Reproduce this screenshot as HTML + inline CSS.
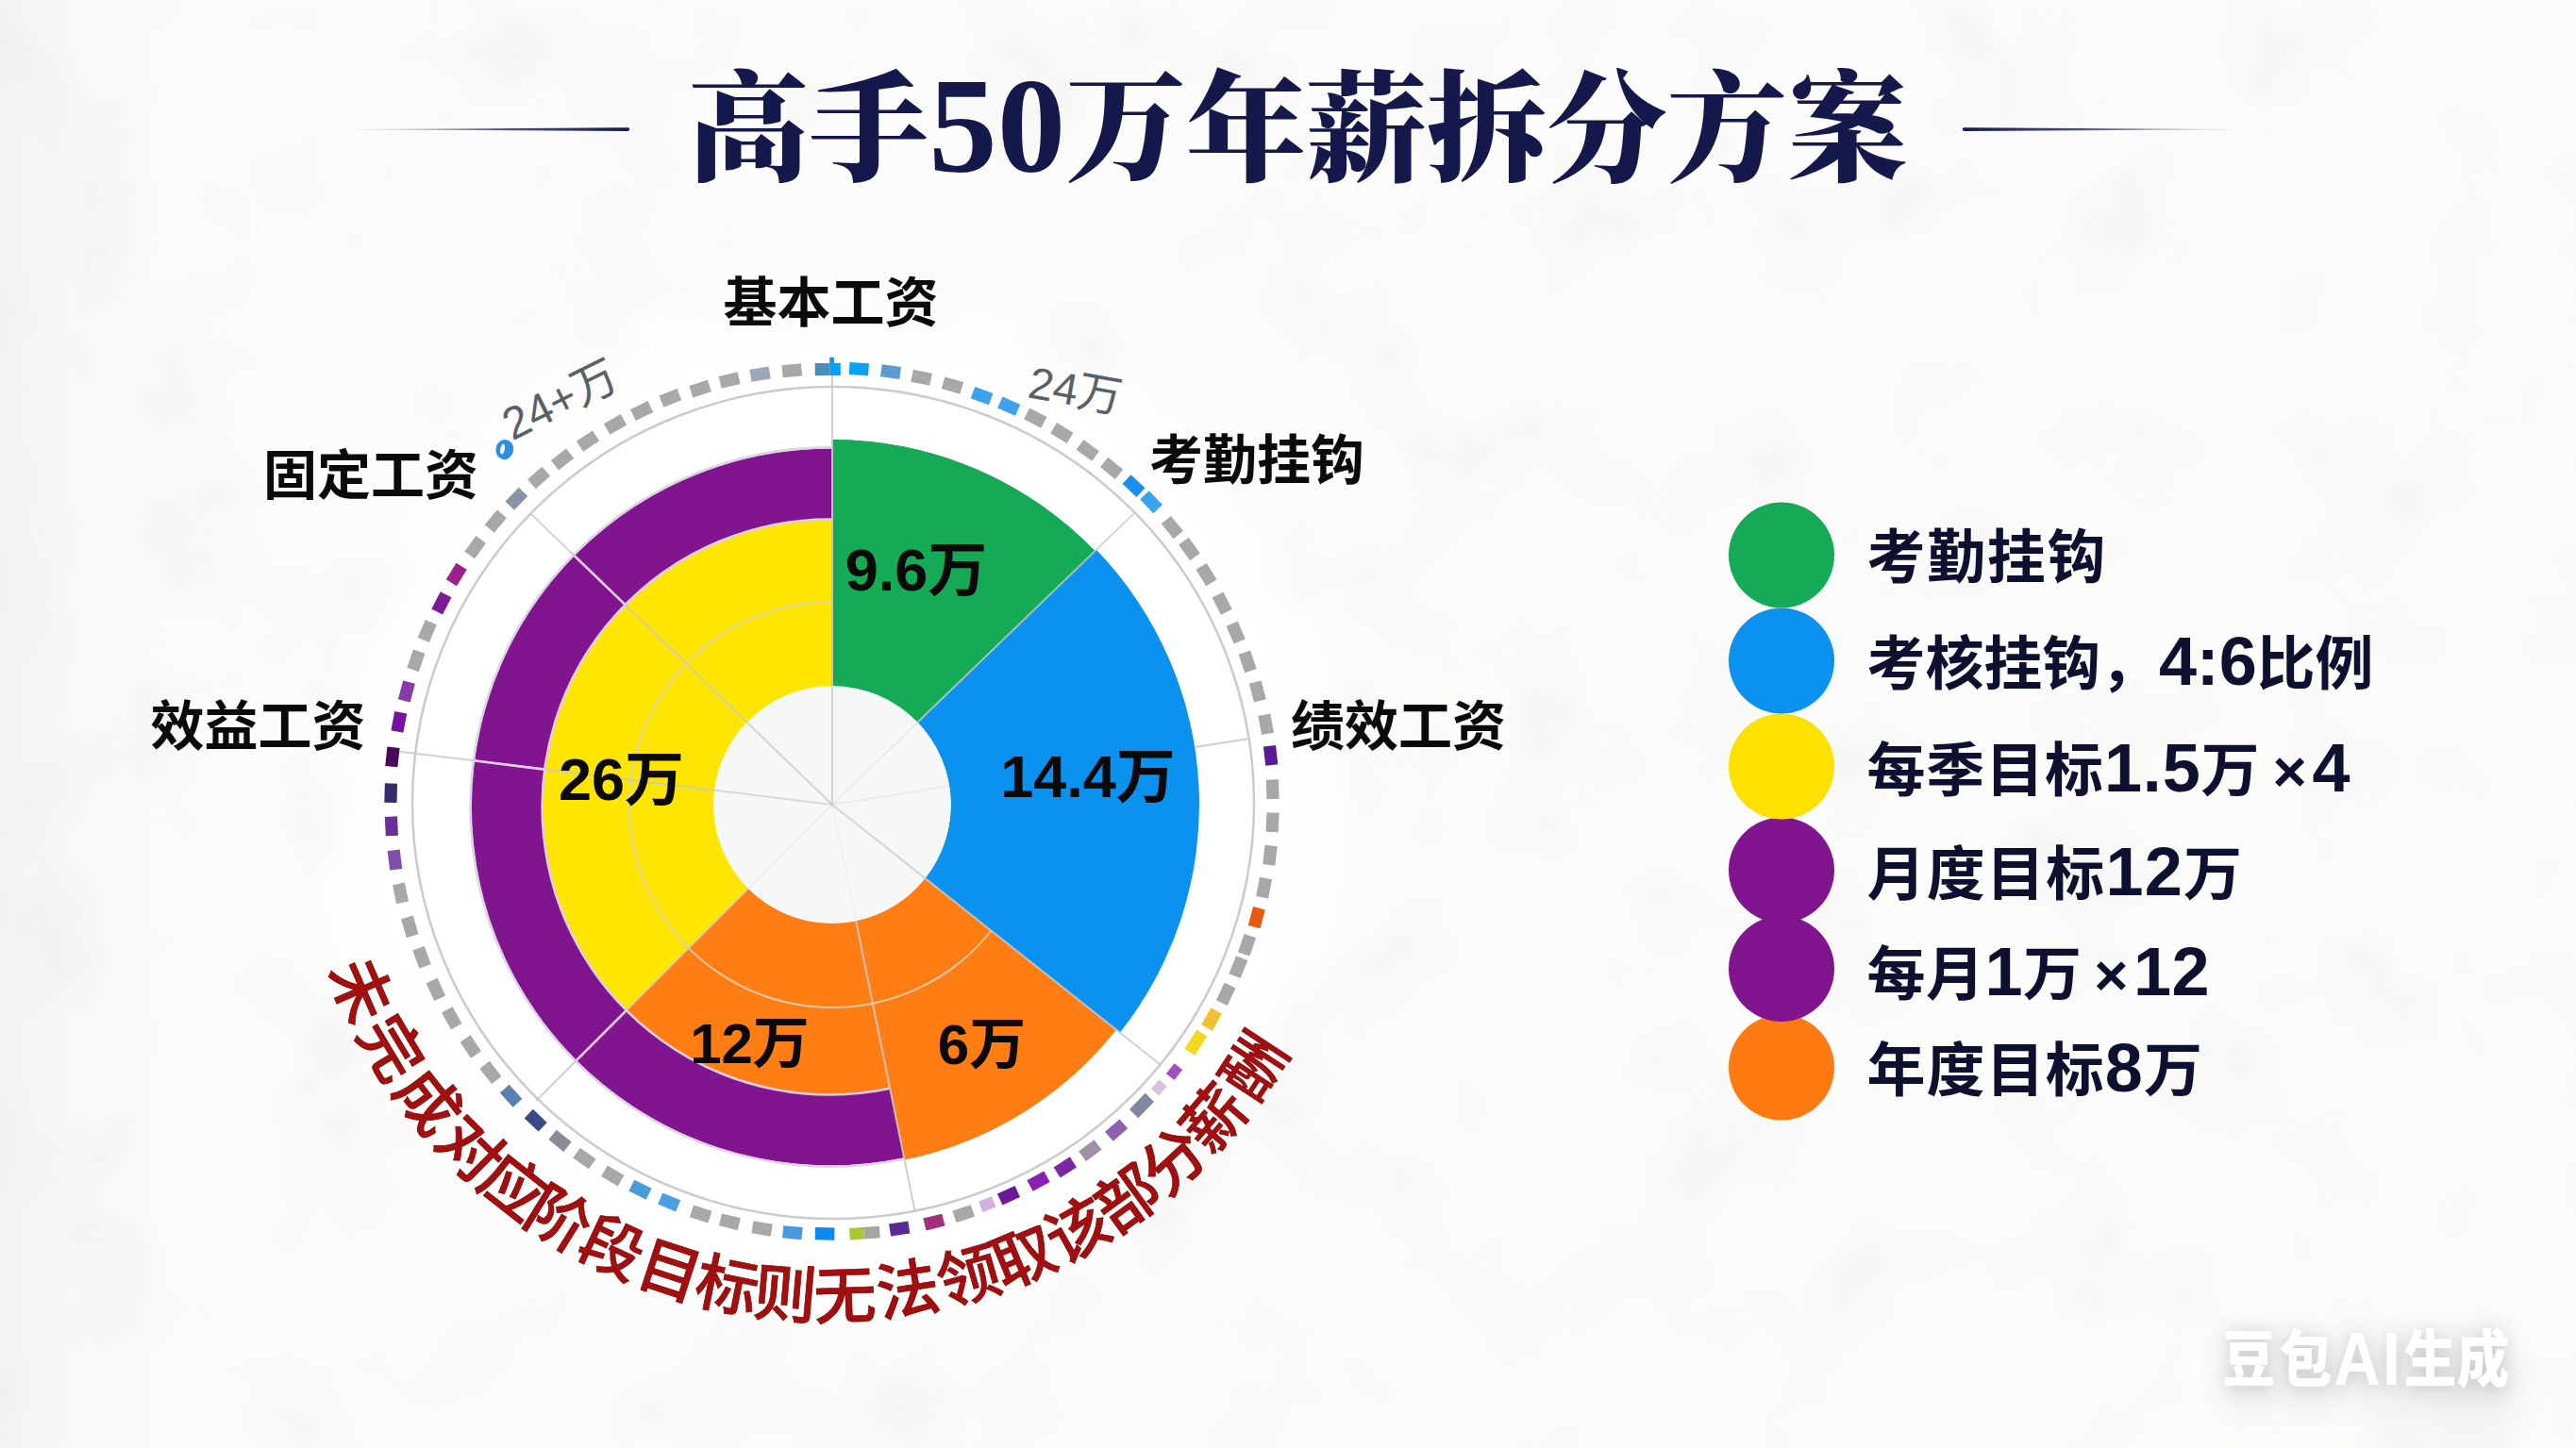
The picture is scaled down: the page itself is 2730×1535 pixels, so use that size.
<!DOCTYPE html>
<html lang="zh-CN"><head><meta charset="utf-8"><title>高手50万年薪拆分方案</title>
<style>
html,body{margin:0;padding:0;background:#fcfcfb;}
body{width:2730px;height:1535px;overflow:hidden;position:relative;}
svg{display:block;position:absolute;left:0;top:0;}
.title{font-family:"Liberation Serif","Noto Serif CJK SC",serif;font-weight:900;font-size:127.5px;fill:#14184a;}
.lab{font-family:"Liberation Sans","Noto Sans CJK SC",sans-serif;font-weight:700;font-size:57px;fill:#0a0a0a;}
.val{font-family:"Liberation Sans","Noto Sans CJK SC",sans-serif;font-weight:700;font-size:63px;fill:#0a0a0a;}
.leg{font-family:"Liberation Sans","Noto Sans CJK SC",sans-serif;font-weight:700;font-size:62px;fill:#0e1030;}
.thin{font-family:"Liberation Sans","Noto Sans CJK SC",sans-serif;font-weight:400;font-size:46px;fill:#586068;}
.red{font-family:"Liberation Sans","Noto Sans CJK SC",sans-serif;font-weight:500;font-size:66.5px;fill:#a30f0f;stroke:#7a0505;stroke-width:0.7px;}
.wm{font-family:"Liberation Sans","Noto Sans CJK SC",sans-serif;font-weight:900;font-size:64px;fill:#ffffff;}
</style></head><body>
<svg width="2730" height="1535" viewBox="0 0 2730 1535">
<defs>
<radialGradient id="disc" cx="882" cy="852" r="560" gradientUnits="userSpaceOnUse"><stop offset="0" stop-color="#fff"/><stop offset="0.84" stop-color="#fff"/><stop offset="1" stop-color="#fff" stop-opacity="0"/></radialGradient>
<linearGradient id="ll" x1="350" x2="668" y1="0" y2="0" gradientUnits="userSpaceOnUse"><stop offset="0" stop-color="#14184a" stop-opacity="0"/><stop offset="0.6" stop-color="#14184a" stop-opacity="0.75"/><stop offset="1" stop-color="#14184a"/></linearGradient>
<linearGradient id="lr" x1="2076" x2="2394" y1="0" y2="0" gradientUnits="userSpaceOnUse"><stop offset="0" stop-color="#14184a"/><stop offset="0.4" stop-color="#14184a" stop-opacity="0.75"/><stop offset="1" stop-color="#14184a" stop-opacity="0"/></linearGradient>
<linearGradient id="lg" x1="0" x2="300" y1="0" y2="0" gradientUnits="userSpaceOnUse"><stop offset="0" stop-color="#f3f5f3"/><stop offset="1" stop-color="#fcfcfb" stop-opacity="0"/></linearGradient>
<filter id="paper" x="0" y="0" width="100%" height="100%"><feTurbulence type="fractalNoise" baseFrequency="0.007" numOctaves="3" seed="7" result="n"/><feColorMatrix in="n" type="matrix" values="0 0 0 0 0.45  0 0 0 0 0.47  0 0 0 0 0.45  0 0 0 -1.6 0.86"/></filter>
<filter id="wms" x="-30%" y="-100%" width="160%" height="340%"><feGaussianBlur in="SourceAlpha" stdDeviation="9" result="b"/><feFlood flood-color="#909794" flood-opacity="0.42"/><feComposite in2="b" operator="in" result="g"/><feOffset in="g" dy="3" result="g2"/><feGaussianBlur in="SourceAlpha" stdDeviation="24" result="b2"/><feFlood flood-color="#909794" flood-opacity="0.35"/><feComposite in2="b2" operator="in" result="h"/><feOffset in="h" dy="14" result="h2"/><feMerge><feMergeNode in="h2"/><feMergeNode in="g2"/><feMergeNode in="SourceGraphic"/></feMerge></filter>
</defs>
<rect width="2730" height="1535" fill="#fcfcfb"/>

<rect width="300" height="1535" fill="url(#lg)"/>
<rect width="2730" height="1535" filter="url(#paper)" opacity="0.13"/>
<circle cx="882" cy="852" r="560" fill="url(#disc)"/>
<text class="title" x="1375.5" y="182" text-anchor="middle">高手<tspan font-size="145">50</tspan>万年薪拆分方案</text>
<path d="M350,137.3L665.5,135.3A1.8,1.8 0 0 1 665.5,138.9Z" fill="url(#ll)"/>
<path d="M2081.5,135.3L2394,137.3L2081.5,138.9A1.8,1.8 0 0 1 2081.5,135.3Z" fill="url(#lr)"/>
<path d="M882.0,466.0A387,387 0 0 1 1160.4,584.2L972.4,765.7A125.7,125.7 0 0 0 882.0,727.3Z" fill="#15aa55"/>
<path d="M1161.8,582.8A389,389 0 0 1 1186.9,1094.6L980.5,931.1A125.7,125.7 0 0 0 972.4,765.7Z" fill="#0b91ee"/>
<path d="M1182.9,1091.5A384,384 0 0 1 958.6,1229.3L907.1,976.2A125.7,125.7 0 0 0 980.5,931.1Z" fill="#ff7d12"/>
<path d="M943.4,1154.8A306,306 0 0 1 663.1,1071.9L793.1,941.9A125.7,125.7 0 0 0 907.1,976.2Z" fill="#ff7d12"/>
<path d="M663.1,1071.9A306,306 0 0 1 881.9,549.5L882.0,727.3A125.7,125.7 0 0 0 793.1,941.9Z" fill="#ffe500"/>
<path d="M958.1,1227.3A380,380 0 1 1 881.9,475.5L881.9,550.5A305,305 0 1 0 943.2,1153.8Z" fill="#80158f"/>
<path d="M958.4,1228.4A381.1,381.1 0 1 1 881.9,474.4" fill="none" stroke="#ddd4e3" stroke-width="2.6"/>
<path d="M943.2,1153.8A305,305 0 1 1 881.9,550.5" fill="none" stroke="#dccdea" stroke-width="2.6"/>
<path d="M882.0,466.0A387,387 0 0 1 1160.4,584.2L972.4,765.7A125.7,125.7 0 0 0 882.0,727.3Z" fill="#15aa55"/>
<path d="M1182.9,1091.5A384,384 0 0 1 958.6,1229.3L907.1,976.2A125.7,125.7 0 0 0 980.5,931.1Z" fill="#ff7d12"/>
<circle cx="882.0" cy="853.0" r="125.7" fill="#f6f7f7"/>
<g fill="none" stroke="#c9c9c9" stroke-width="2">
<ellipse cx="883" cy="851" rx="446" ry="441" stroke="#cbcbcb" stroke-width="2.5"/>
<path d="M1050.5,986.5A215,215 0 1 1 882.0,638.0" stroke="#d8d2b8" stroke-opacity="0.9"/>
<path d="M882.0,727.3L882.0,398.0" stroke-opacity="0.9"/>
<path d="M972.4,765.7L1201.4,544.6" stroke-opacity="0.8"/>
<path d="M1266.2,792.1L1322.5,783.2" stroke-opacity="0.9"/>
<path d="M980.5,931.1L1229.2,1128.2" stroke-opacity="0.85"/>
<path d="M907.1,976.2L969.7,1284.2" stroke-opacity="0.9"/>
<path d="M793.1,941.9L568.0,1167.0" stroke-opacity="0.85"/>
<path d="M757.2,837.7L417.5,796.0" stroke-opacity="0.85"/>
<path d="M791.6,765.7L562.6,544.6" stroke-opacity="0.85"/>
<path d="M663.8,1071.2L610.8,1124.2" stroke="#e3cfea" stroke-width="2.6"/>
<path d="M577.1,815.6L502.7,806.4" stroke="#e3cfea" stroke-width="2.6"/>
<path d="M662.6,641.1L608.6,589.0" stroke="#e3cfea" stroke-width="2.6"/>
<path d="M882.0,853.0L882.0,727.3" stroke="#c4c6c8" stroke-opacity="0.75"/>
<path d="M882.0,853.0L972.4,765.7" stroke="#c4c6c8" stroke-opacity="0.25"/>
<path d="M882.0,853.0L1006.2,833.3" stroke="#c4c6c8" stroke-opacity="0.2"/>
<path d="M882.0,853.0L980.5,931.1" stroke="#c4c6c8" stroke-opacity="0.7"/>
<path d="M882.0,853.0L907.1,976.2" stroke="#c4c6c8" stroke-opacity="0.1"/>
<path d="M882.0,853.0L793.1,941.9" stroke="#c4c6c8" stroke-opacity="0.2"/>
<path d="M882.0,853.0L757.2,837.7" stroke="#c4c6c8" stroke-opacity="0.6"/>
<path d="M882.0,853.0L791.6,765.7" stroke="#c4c6c8" stroke-opacity="0.7"/>
</g>
<g>
<g transform="translate(878.0,391.5) rotate(359.5)"><rect x="-14.3" y="-6.6" width="15.6" height="13.2" fill="#4a8db9"/><rect x="1.2" y="-6.6" width="11.6" height="13.2" fill="#0a9ff5"/><rect x="1.2" y="-12.8" width="5" height="7" rx="1" fill="#0a9ff5"/></g>
<rect x="-10.25" y="-6.6" width="20.5" height="13.2" fill="#0aa2f5" transform="translate(910.3,391.1) rotate(3.5)"/>
<rect x="-10.25" y="-6.6" width="20.5" height="13.2" fill="#5b9bd0" transform="translate(944.0,394.2) rotate(7.7)"/>
<rect x="-10.25" y="-6.6" width="20.5" height="13.2" fill="#a6a8a9" transform="translate(976.6,400.3) rotate(11.8)"/>
<rect x="-10.25" y="-6.6" width="20.5" height="13.2" fill="#a6a8a9" transform="translate(1009.4,408.6) rotate(16.0)"/>
<rect x="-10.25" y="-6.6" width="20.5" height="13.2" fill="#3fa0ee" transform="translate(1040.6,419.6) rotate(20.1)"/>
<rect x="-10.25" y="-6.6" width="20.5" height="13.2" fill="#3fa0ee" transform="translate(1069.2,430.6) rotate(23.9)"/>
<rect x="-10.25" y="-6.6" width="20.5" height="13.2" fill="#a6a8a9" transform="translate(1097.2,443.1) rotate(27.7)"/>
<rect x="-10.25" y="-6.6" width="20.5" height="13.2" fill="#a6a8a9" transform="translate(1125.3,459.1) rotate(31.7)"/>
<rect x="-10.25" y="-6.6" width="20.5" height="13.2" fill="#a6a8a9" transform="translate(1152.8,477.5) rotate(35.8)"/>
<rect x="-10.25" y="-6.6" width="20.5" height="13.2" fill="#a6a8a9" transform="translate(1178.1,496.4) rotate(39.7)"/>
<rect x="-10.25" y="-6.6" width="20.5" height="13.2" fill="#1a8ef0" transform="translate(1201.5,515.1) rotate(43.4)"/>
<rect x="-10.25" y="-6.6" width="20.5" height="13.2" fill="#38a5f0" transform="translate(1220.0,532.2) rotate(46.5)"/>
<rect x="-10.25" y="-6.6" width="20.5" height="13.2" fill="#a6a8a9" transform="translate(1242.3,559.1) rotate(50.8)"/>
<rect x="-10.25" y="-6.6" width="20.5" height="13.2" fill="#a6a8a9" transform="translate(1260.5,582.0) rotate(54.4)"/>
<rect x="-10.25" y="-6.6" width="20.5" height="13.2" fill="#a6a8a9" transform="translate(1278.5,609.1) rotate(58.4)"/>
<rect x="-10.25" y="-6.6" width="20.5" height="13.2" fill="#a6a8a9" transform="translate(1295.2,639.7) rotate(62.7)"/>
<rect x="-10.25" y="-6.6" width="20.5" height="13.2" fill="#a6a8a9" transform="translate(1309.7,670.6) rotate(66.9)"/>
<rect x="-10.25" y="-6.6" width="20.5" height="13.2" fill="#a6a8a9" transform="translate(1322.1,701.4) rotate(71.0)"/>
<rect x="-10.25" y="-6.6" width="20.5" height="13.2" fill="#a6a8a9" transform="translate(1332.8,733.0) rotate(75.1)"/>
<rect x="-10.25" y="-6.6" width="20.5" height="13.2" fill="#a6a8a9" transform="translate(1341.7,767.8) rotate(79.5)"/>
<rect x="-10.25" y="-6.6" width="20.5" height="13.2" fill="#5a1a98" transform="translate(1346.6,800.9) rotate(83.6)"/>
<rect x="-10.25" y="-6.6" width="20.5" height="13.2" fill="#a6a8a9" transform="translate(1348.7,836.7) rotate(88.0)"/>
<rect x="-10.25" y="-6.6" width="20.5" height="13.2" fill="#a6a8a9" transform="translate(1348.6,871.7) rotate(92.3)"/>
<rect x="-10.25" y="-6.6" width="20.5" height="13.2" fill="#a6a8a9" transform="translate(1345.9,906.7) rotate(96.6)"/>
<rect x="-10.25" y="-6.6" width="20.5" height="13.2" fill="#a6a8a9" transform="translate(1339.6,941.1) rotate(100.9)"/>
<rect x="-10.25" y="-6.6" width="20.5" height="13.2" fill="#e85a10" transform="translate(1331.8,972.7) rotate(104.9)"/>
<rect x="-10.25" y="-6.6" width="20.5" height="13.2" fill="#a6a8a9" transform="translate(1321.5,1001.8) rotate(108.7)"/>
<rect x="-10.25" y="-6.6" width="20.5" height="13.2" fill="#a6a8a9" transform="translate(1312.4,1025.1) rotate(111.8)"/>
<rect x="-10.25" y="-6.6" width="20.5" height="13.2" fill="#a6a8a9" transform="translate(1299.2,1053.8) rotate(115.7)"/>
<rect x="-10.25" y="-6.6" width="20.5" height="13.2" fill="#f0c030" transform="translate(1284.1,1080.5) rotate(119.5)"/>
<rect x="-12.0" y="-6.5" width="24" height="13" fill="#f5d820" transform="translate(1267.3,1105.2) rotate(123.2)"/>
<rect x="-7.0" y="-5.5" width="14" height="11" fill="#a050c0" transform="translate(1244.5,1136.2) rotate(128.0)"/>
<rect x="-6.5" y="-5.5" width="13" height="11" fill="#d8c0e0" transform="translate(1228.2,1152.9) rotate(130.9)"/>
<rect x="-12.0" y="-6.5" width="24" height="13" fill="#8088a0" transform="translate(1210.0,1172.0) rotate(134.2)"/>
<rect x="-10.25" y="-6.6" width="20.5" height="13.2" fill="#9060b0" transform="translate(1183.1,1198.1) rotate(138.9)"/>
<rect x="-10.25" y="-6.6" width="20.5" height="13.2" fill="#a090a8" transform="translate(1155.3,1219.7) rotate(143.3)"/>
<rect x="-10.25" y="-6.6" width="20.5" height="13.2" fill="#7a2aa0" transform="translate(1128.8,1237.4) rotate(147.3)"/>
<rect x="-10.25" y="-6.6" width="20.5" height="13.2" fill="#8a20b0" transform="translate(1100.5,1252.1) rotate(151.3)"/>
<rect x="-10.25" y="-6.6" width="20.5" height="13.2" fill="#6a1a98" transform="translate(1069.0,1267.2) rotate(155.7)"/>
<rect x="-7.5" y="-6.0" width="15" height="12" fill="#d0b0e0" transform="translate(1046.3,1276.6) rotate(158.8)"/>
<rect x="-10.25" y="-6.6" width="20.5" height="13.2" fill="#a6a8a9" transform="translate(1021.2,1286.6) rotate(162.2)"/>
<rect x="-10.25" y="-6.6" width="20.5" height="13.2" fill="#a0307a" transform="translate(989.9,1295.6) rotate(166.3)"/>
<rect x="-10.25" y="-6.6" width="20.5" height="13.2" fill="#5a2a98" transform="translate(953.2,1302.5) rotate(171.0)"/>
<g transform="translate(915.4,1307.3) rotate(175.8)"><rect x="-17" y="-6.2" width="17" height="12.5" fill="#a3a7a3"/><rect x="0" y="-6.2" width="15" height="12.5" fill="#a8c832"/></g>
<rect x="-10.25" y="-6.6" width="20.5" height="13.2" fill="#0a8af0" transform="translate(874.1,1307.9) rotate(181.0)"/>
<rect x="-10.25" y="-6.6" width="20.5" height="13.2" fill="#4a98e0" transform="translate(839.9,1306.7) rotate(185.3)"/>
<rect x="-10.25" y="-6.6" width="20.5" height="13.2" fill="#a6a8a9" transform="translate(807.6,1302.5) rotate(189.4)"/>
<rect x="-10.25" y="-6.6" width="20.5" height="13.2" fill="#a6a8a9" transform="translate(773.4,1295.3) rotate(193.8)"/>
<rect x="-10.25" y="-6.6" width="20.5" height="13.2" fill="#a6a8a9" transform="translate(742.7,1287.0) rotate(197.8)"/>
<rect x="-10.25" y="-6.6" width="20.5" height="13.2" fill="#4aa0e0" transform="translate(709.2,1274.4) rotate(202.3)"/>
<rect x="-10.25" y="-6.6" width="20.5" height="13.2" fill="#4a9ad8" transform="translate(678.5,1261.2) rotate(206.5)"/>
<rect x="-10.25" y="-6.6" width="20.5" height="13.2" fill="#a6a8a9" transform="translate(649.3,1246.5) rotate(210.6)"/>
<rect x="-10.25" y="-6.6" width="20.5" height="13.2" fill="#a6a8a9" transform="translate(619.4,1228.0) rotate(215.0)"/>
<rect x="-10.25" y="-6.6" width="20.5" height="13.2" fill="#8a8a98" transform="translate(593.5,1209.3) rotate(219.0)"/>
<rect x="-10.25" y="-6.6" width="20.5" height="13.2" fill="#3a4a88" transform="translate(567.7,1187.7) rotate(223.2)"/>
<rect x="-10.25" y="-6.6" width="20.5" height="13.2" fill="#5a80b0" transform="translate(541.6,1161.7) rotate(227.8)"/>
<rect x="-10.25" y="-6.6" width="20.5" height="13.2" fill="#a6a8a9" transform="translate(519.9,1136.9) rotate(231.9)"/>
<rect x="-10.25" y="-6.6" width="20.5" height="13.2" fill="#a6a8a9" transform="translate(498.8,1109.5) rotate(236.2)"/>
<rect x="-10.25" y="-6.6" width="20.5" height="13.2" fill="#a6a8a9" transform="translate(478.8,1079.3) rotate(240.7)"/>
<rect x="-10.25" y="-6.6" width="20.5" height="13.2" fill="#a6a8a9" transform="translate(461.9,1048.9) rotate(245.0)"/>
<rect x="-10.25" y="-6.6" width="20.5" height="13.2" fill="#a6a8a9" transform="translate(447.0,1014.8) rotate(249.6)"/>
<rect x="-10.25" y="-6.6" width="20.5" height="13.2" fill="#a6a8a9" transform="translate(434.3,982.2) rotate(253.9)"/>
<rect x="-10.25" y="-6.6" width="20.5" height="13.2" fill="#a6a8a9" transform="translate(424.5,946.9) rotate(258.4)"/>
<rect x="-10.25" y="-6.6" width="20.5" height="13.2" fill="#8050a8" transform="translate(418.4,911.6) rotate(262.8)"/>
<rect x="-10.25" y="-6.6" width="20.5" height="13.2" fill="#6a3098" transform="translate(414.9,875.8) rotate(267.2)"/>
<rect x="-10.25" y="-6.6" width="20.5" height="13.2" fill="#3a2a70" transform="translate(414.2,840.7) rotate(271.5)"/>
<rect x="-10.25" y="-6.6" width="20.5" height="13.2" fill="#4a0a58" transform="translate(415.9,802.4) rotate(276.2)"/>
<rect x="-10.25" y="-6.6" width="20.5" height="13.2" fill="#7a10a0" transform="translate(422.8,765.4) rotate(280.8)"/>
<rect x="-10.25" y="-6.6" width="20.5" height="13.2" fill="#8a3aa8" transform="translate(430.9,733.0) rotate(284.9)"/>
<rect x="-10.25" y="-6.6" width="20.5" height="13.2" fill="#a6a8a9" transform="translate(440.9,700.3) rotate(289.1)"/>
<rect x="-10.25" y="-6.6" width="20.5" height="13.2" fill="#a6a8a9" transform="translate(452.8,669.0) rotate(293.2)"/>
<rect x="-10.25" y="-6.6" width="20.5" height="13.2" fill="#7a1a9a" transform="translate(467.9,639.3) rotate(297.3)"/>
<rect x="-10.25" y="-6.6" width="20.5" height="13.2" fill="#9a208a" transform="translate(483.8,609.0) rotate(301.5)"/>
<rect x="-10.25" y="-6.6" width="20.5" height="13.2" fill="#a6a8a9" transform="translate(503.7,580.2) rotate(305.8)"/>
<rect x="-10.25" y="-6.6" width="20.5" height="13.2" fill="#a6a8a9" transform="translate(525.3,552.6) rotate(310.1)"/>
<rect x="-10.25" y="-6.6" width="20.5" height="13.2" fill="#8a93a5" transform="translate(547.4,528.7) rotate(314.1)"/>
<rect x="-10.25" y="-6.6" width="20.5" height="13.2" fill="#a6a8a9" transform="translate(571.1,506.4) rotate(318.1)"/>
<rect x="-10.25" y="-6.6" width="20.5" height="13.2" fill="#a6a8a9" transform="translate(596.0,486.9) rotate(322.0)"/>
<rect x="-10.25" y="-6.6" width="20.5" height="13.2" fill="#a6a8a9" transform="translate(623.0,467.6) rotate(326.1)"/>
<rect x="-10.25" y="-6.6" width="20.5" height="13.2" fill="#a6a8a9" transform="translate(652.1,449.9) rotate(330.3)"/>
<rect x="-10.25" y="-6.6" width="20.5" height="13.2" fill="#a6a8a9" transform="translate(680.2,435.5) rotate(334.2)"/>
<rect x="-10.25" y="-6.6" width="20.5" height="13.2" fill="#a6a8a9" transform="translate(710.4,421.9) rotate(338.3)"/>
<rect x="-10.25" y="-6.6" width="20.5" height="13.2" fill="#a6a8a9" transform="translate(742.1,412.1) rotate(342.4)"/>
<rect x="-10.25" y="-6.6" width="20.5" height="13.2" fill="#a6a8a9" transform="translate(773.1,403.0) rotate(346.4)"/>
<rect x="-10.25" y="-6.6" width="20.5" height="13.2" fill="#9aa8b8" transform="translate(805.6,396.6) rotate(350.5)"/>
<rect x="-10.25" y="-6.6" width="20.5" height="13.2" fill="#a6a8a9" transform="translate(839.3,392.8) rotate(354.7)"/>
</g>
<g transform="rotate(12 534.8 476.5)"><ellipse cx="534.8" cy="476.5" rx="9.3" ry="10.5" fill="#2b8de3"/><ellipse cx="532.5" cy="476.5" rx="2.3" ry="5.6" fill="#f4f8fc"/></g>
<text class="thin" style="font-size:48px" transform="translate(543,467.5) rotate(-26.5)">24+万</text>
<text class="thin" style="font-size:47px" transform="translate(1088,421) rotate(10)">24万</text>
<text class="lab" x="880.5" y="341" text-anchor="middle">基本工资</text>
<text class="lab" x="1332" y="508" text-anchor="middle">考勤挂钩</text>
<text class="lab" x="1482" y="789.5" text-anchor="middle">绩效工资</text>
<text class="lab" x="393" y="524" text-anchor="middle">固定工资</text>
<text class="lab" x="273.5" y="790" text-anchor="middle">效益工资</text>
<text class="val" x="971" y="626" text-anchor="middle">9.6万</text>
<text class="val" x="1153" y="845" text-anchor="middle">14.4万</text>
<text class="val" x="658.5" y="848" text-anchor="middle">26万</text>
<text class="val" style="font-size:60px" x="794.5" y="1126.5" text-anchor="middle">12万</text>
<text class="val" style="font-size:60px" x="1040.5" y="1128" text-anchor="middle">6万</text>
<text class="red" x="347.5 377.0 414.2 458.2 503.0 551.6 608.4 670.9 733.6 797.3 863.1 932.9 1001.0 1063.5 1125.3 1181.9 1235.3 1283.8 1330.9" y="1028.4 1095.1 1156.6 1212.1 1256.5 1295.1 1330.4 1359.5 1380.0 1393.0 1398.5 1396.0 1385.1 1367.2 1341.5 1309.7 1270.9 1226.2 1170.6" rotate="66.5 59.1 51.8 44.6 38.2 31.9 25.1 18.1 11.4 4.8 -1.9 -9.0 -16.0 -22.6 -29.4 -36.0 -42.7 -49.4 -56.8">未完成对应阶段目标则无法领取该部分薪酬</text>
<circle cx="1888" cy="1131.5" r="56" fill="#ff7a10"/>
<circle cx="1888" cy="1027" r="56" fill="#80158f"/>
<circle cx="1888" cy="922.5" r="56" fill="#80158f"/>
<circle cx="1888" cy="812.5" r="56" fill="#ffe100"/>
<circle cx="1888" cy="700.5" r="56" fill="#0b91ee"/>
<circle cx="1888" cy="588.5" r="56" fill="#15aa55"/>
<text class="leg" x="1978.5" y="612.5" textLength="253" lengthAdjust="spacing">考勤挂钩</text>
<text class="leg" x="1978.5" y="725.5" textLength="537" lengthAdjust="spacing">考核挂钩，<tspan font-size="72">4:6</tspan>比例</text>
<text class="leg" x="1978.5" y="839.0" textLength="512" lengthAdjust="spacing">每季目标<tspan font-size="72">1.5</tspan>万<tspan dx="13">×</tspan><tspan dx="5" font-size="72">4</tspan></text>
<text class="leg" x="1978.5" y="948.5" textLength="397.5" lengthAdjust="spacing">月度目标<tspan font-size="72">12</tspan>万</text>
<text class="leg" x="1978.5" y="1054.5" textLength="363" lengthAdjust="spacing">每月<tspan font-size="72">1</tspan>万<tspan dx="13">×</tspan><tspan dx="5" font-size="72">12</tspan></text>
<text class="leg" x="1978.5" y="1156.5" textLength="355.5" lengthAdjust="spacing">年度目标<tspan font-size="72">8</tspan>万</text>
<g transform="translate(2357.6,1464.2) scale(0.87,1.02)" filter="url(#wms)"><text class="wm" x="-2.3 66.7 133.3 192.3 218.4 282.8" y="0">豆包<tspan font-size="78" dy="4">AI</tspan><tspan dy="-4">生成</tspan></text></g>
</svg></body></html>
